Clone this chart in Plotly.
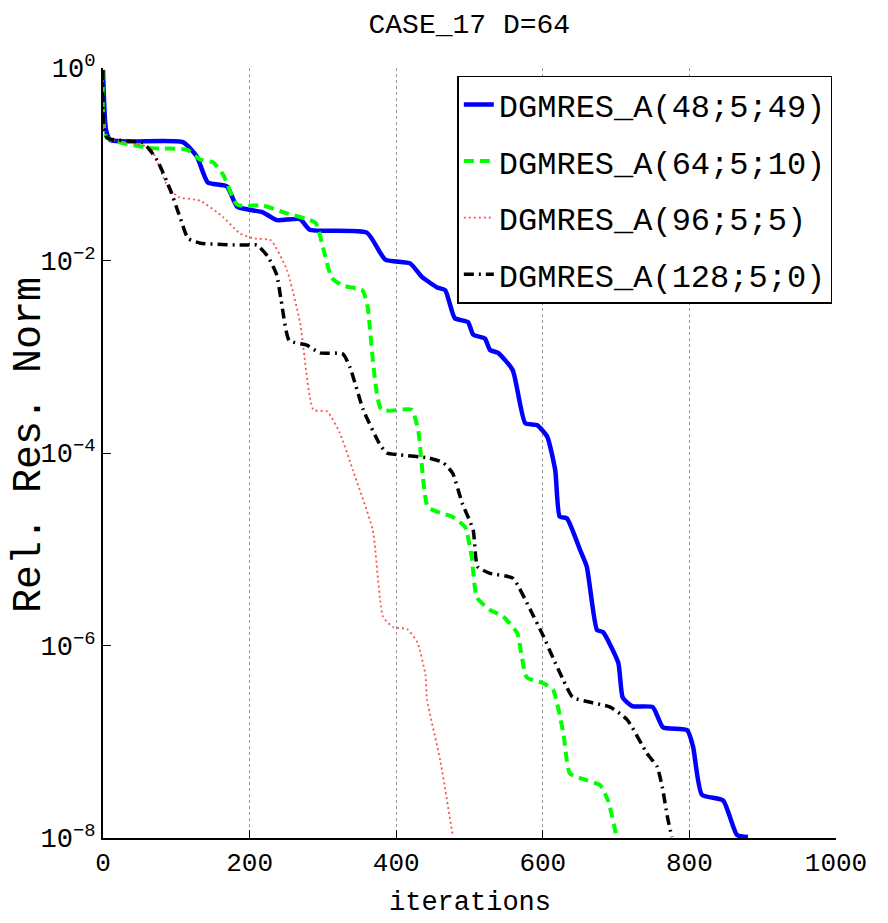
import plotly.graph_objects as go

# ---- data (iterations, log10 of relative residual norm) ----
blue_x = [0, 4, 10, 109, 128, 143, 169, 183, 218, 237, 269, 282, 360, 385, 419, 435, 456, 467, 480, 498,
          505, 521, 528, 539, 559, 576, 592, 606, 617, 623, 633, 651, 660, 674, 682, 703, 709, 722, 750,
          764, 797, 805, 817, 846, 865, 880]
blue_lg = [-0.02, -0.64, -0.75, -0.77, -0.92, -1.19, -1.23, -1.44, -1.50, -1.58, -1.57, -1.68, -1.71, -1.99,
           -2.03, -2.17, -2.28, -2.31, -2.60, -2.64, -2.77, -2.81, -2.93, -2.96, -3.14, -3.69, -3.71, -3.83,
           -4.18, -4.66, -4.68, -5.01, -5.18, -5.84, -5.86, -6.18, -6.54, -6.63, -6.64, -6.85, -6.88, -7.05,
           -7.55, -7.61, -7.97, -7.99]

green_x = [0, 5, 64, 115, 132, 150, 164, 183, 219, 246, 290, 300, 312, 327, 354, 361, 380, 421, 430, 443,
           460, 476, 494, 503, 510, 528, 546, 565, 578, 600, 614, 628, 637, 660, 678, 689, 701]
green_lg = [-0.02, -0.72, -0.83, -0.85, -0.95, -0.98, -1.11, -1.42, -1.43, -1.50, -1.61, -1.86, -2.18, -2.26,
            -2.31, -2.48, -3.55, -3.55, -3.76, -4.56, -4.62, -4.66, -4.77, -5.08, -5.50, -5.63, -5.70, -5.87,
            -6.33, -6.39, -6.46, -6.91, -7.33, -7.40, -7.45, -7.61, -8.0]

red_x = [0, 5, 64, 88, 103, 133, 164, 187, 205, 229, 251, 269, 287, 306, 323, 341, 368, 382, 396, 415,
         429, 440, 442, 460, 477]
red_lg = [-0.02, -0.72, -0.83, -1.23, -1.34, -1.38, -1.55, -1.72, -1.77, -1.79, -2.10, -2.65, -3.55, -3.57,
          -3.79, -4.18, -4.80, -5.70, -5.81, -5.83, -5.97, -6.31, -6.56, -7.19, -7.97]

black_x = [0, 5, 55, 74, 92, 105, 116, 133, 191, 210, 225, 237, 243, 254, 278, 296, 327, 337, 355, 377,
           387, 406, 443, 464, 477, 490, 505, 511, 528, 559, 583, 600, 614, 628, 641, 665, 692, 715, 742,
           756, 763, 770, 776]
black_lg = [-0.02, -0.72, -0.78, -0.96, -1.27, -1.55, -1.77, -1.82, -1.84, -1.84, -1.96, -2.15, -2.41, -2.83,
            -2.88, -2.96, -2.97, -3.11, -3.55, -3.90, -4.00, -4.02, -4.05, -4.10, -4.21, -4.52, -4.80, -5.18,
            -5.25, -5.30, -5.63, -5.89, -6.13, -6.36, -6.54, -6.59, -6.64, -6.77, -7.12, -7.26, -7.47, -7.78,
            -7.99]

names = ["DGMRES_A(48;5;49)", "DGMRES_A(64;5;10)", "DGMRES_A(96;5;5)", "DGMRES_A(128;5;0)"]
x_ticks = [0, 200, 400, 600, 800, 1000]
y_ticks = [1, 1e-2, 1e-4, 1e-6, 1e-8]
y_ticktext = ["10<sup>0</sup>", "10<sup>−2</sup>", "10<sup>−4</sup>", "10<sup>−6</sup>", "10<sup>−8</sup>"]

FONT = "Liberation Mono"

series = [
    (blue_x, blue_lg, dict(color="rgb(0,0,255)", width=4.5, dash="solid")),
    (green_x, green_lg, dict(color="rgb(0,255,0)", width=4, dash="10px,6px")),
    (red_x, red_lg, dict(color="rgb(255,80,80)", width=1.8, dash="2px,3px")),
    (black_x, black_lg, dict(color="black", width=3.5, dash="10px,5px,2px,5px")),
]

fig = go.Figure()
for i, (xs, lg, ln) in enumerate(series):
    ln = dict(ln, shape="spline", smoothing=0.5)
    fig.add_trace(go.Scatter(
        x=xs, y=[10 ** v for v in lg], mode="lines", name=names[i],
        line=ln, legendgroup=f"g{i}",
    ))

fig.update_layout(
    width=888, height=923,
    margin=dict(l=103, r=52, t=68, b=85, autoexpand=False),
    paper_bgcolor="white", plot_bgcolor="white",
    font=dict(family=FONT, color="black"),
    title=dict(text="CASE_17 D=64", x=0.5285, xanchor="center", y=0.975, yanchor="middle",
               font=dict(family=FONT, size=28)),
    showlegend=True,
    legend=dict(x=0.995, xanchor="right", y=0.99, yanchor="top",
                bordercolor="black", borderwidth=1.5, bgcolor="white",
                font=dict(family=FONT, size=32), tracegroupgap=12,
                itemwidth=30),
    annotations=[
        dict(text="Rel. Res. Norm", textangle=-90, xref="paper", yref="paper",
             x=-0.1, y=0.51, xanchor="center", yanchor="middle", showarrow=False,
             font=dict(family=FONT, size=40)),
        dict(text="iterations", xref="paper", yref="paper",
             x=0.5, y=-0.0844, xanchor="center", yanchor="middle", showarrow=False,
             font=dict(family=FONT, size=27)),
    ],
)
fig.update_xaxes(
    range=[0, 1000], tickvals=x_ticks, ticktext=[str(v) for v in x_ticks],
    showgrid=True, gridcolor="rgb(150,150,150)", griddash="dot", gridwidth=1,
    showline=True, linecolor="black", linewidth=2, zeroline=False,
    ticks="inside", ticklen=8, tickcolor="black", automargin=False,
    tickfont=dict(family=FONT, size=26),
)
fig.update_yaxes(
    type="log", range=[-8, 0], tickvals=y_ticks, ticktext=y_ticktext,
    showgrid=False, showline=True, linecolor="black", linewidth=2, zeroline=False,
    ticks="inside", ticklen=8, tickcolor="black", automargin=False,
    tickfont=dict(family=FONT, size=27),
)

fig.write_html("out.html")
